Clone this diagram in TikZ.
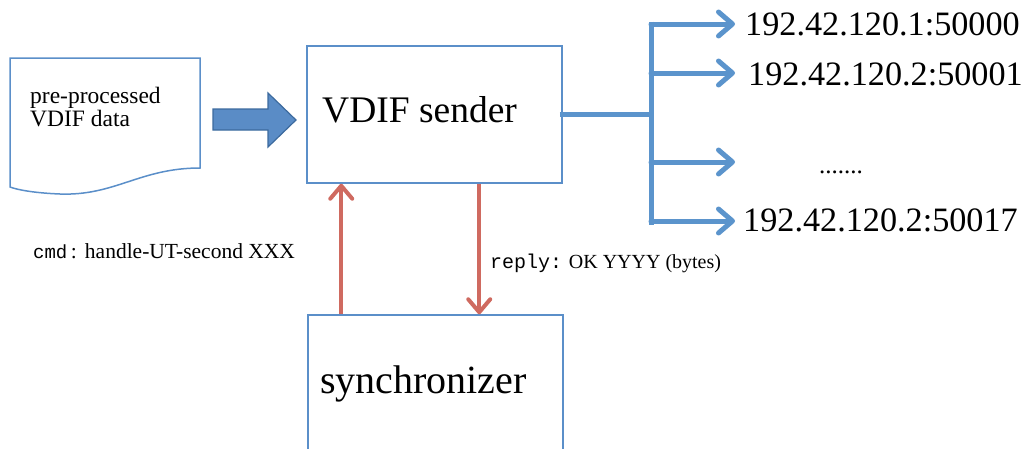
\documentclass[tikz,border=0pt]{standalone}
\usepackage{fontspec}
\setmainfont{Liberation Serif}
\setmonofont{Liberation Mono}
\usetikzlibrary{arrows.meta}

\definecolor{boxblue}{HTML}{5B8FC9}
\definecolor{fanblue}{HTML}{5B94CC}
\definecolor{fatfill}{HTML}{5A8CC6}
\definecolor{fatedge}{HTML}{3C6A9E}
\definecolor{linkred}{HTML}{CF6A60}

\tikzset{
  box/.style={draw=boxblue, line width=1.5pt, rectangle, inner sep=0pt},
  fan/.style={draw=fanblue, line width=5pt},
  fantip/.style={fan, line cap=round, -{Straight Barb[round, length=14pt, width=24pt]}},
  redlink/.style={draw=linkred, line width=4pt, -{Straight Barb[round, length=13pt, width=22pt]}},
  plain/.style={inner sep=0pt, anchor=base west},
}

\begin{document}
\begin{tikzpicture}[x=1pt, y=-1pt]
\useasboundingbox (0,0) rectangle (1021,448);
\clip (0,0) rectangle (1021,448);

% input document with wavy bottom edge
\draw[boxblue, line width=1.5pt]
  (10,58) -- (200,58) -- (200,168)
  .. controls (140,168) and (115,196) .. (60,194)
  .. controls (35,193) and (18,190) .. (10,187) -- cycle;
\node[plain, font=\fontsize{23.5}{25}\selectfont] (doc1) at (30,103) {pre-processed};
\node[plain, font=\fontsize{23.5}{25}\selectfont] (doc2) at (30,126) {VDIF data};

% block arrow into the sender
\filldraw[fill=fatfill, draw=fatedge, line width=1.2pt]
  (213,109) -- (268,109) -- (268,93) -- (296,120) -- (268,147)
  -- (268,130) -- (213,130) -- cycle;

% main blocks
\node[box, minimum width=255pt, minimum height=137pt] (sender) at (434.5,114.5) {};
\node[plain, font=\fontsize{37.5}{40}\selectfont] (sendertxt) at (322,122) {VDIF sender};
\node[box, minimum width=255pt, minimum height=160pt] (sync) at (435.5,395) {};
\node[plain, font=\fontsize{40}{42}\selectfont] (synctxt) at (320,393) {synchronizer};

% command / reply links
\coordinate (upbot) at ([xshift=34pt]sync.north west);
\draw[redlink] (upbot) -- (upbot |- sender.south);
\coordinate (downtop) at ([xshift=173pt]sender.south west);
\draw[redlink] (downtop) -- (downtop |- sync.north);

\node[plain, font=\fontsize{21.5}{24}\selectfont] (cmdlbl) at (33,258)
  {{\fontsize{19}{22}\selectfont\texttt{cmd}}\,:\hspace{8pt}handle-UT-second XXX};
\node[plain, font=\fontsize{20}{22}\selectfont] (replylbl) at (490,268)
  {\texttt{reply:} OK YYYY (bytes)};

% fan-out to the receivers
\coordinate (hub) at (651,114.5);
\coordinate (fantop) at (651,21.5);
\coordinate (fanbot) at (651,224.5);
\draw[fan] ([xshift=-3pt]sender.east) -- (hub);
\draw[fan] (fantop) -- (fanbot);

\node[plain, font=\fontsize{34.2}{37}\selectfont] (ip1) at (745,35) {192.42.120.1:50000};
\node[plain, font=\fontsize{34.2}{37}\selectfont] (ip2) at (748,85) {192.42.120.2:50001};
\node[plain, font=\fontsize{25}{28}\selectfont] (ipdots) at (819,173) {.......};
\node[plain, font=\fontsize{34.2}{37}\selectfont] (ip4) at (743,231) {192.42.120.2:50017};

\coordinate (b1) at (651,24);
\coordinate (b2) at (651,73);
\coordinate (b3) at (651,162);
\coordinate (b4) at (651,221);
\draw[fantip] (b1) -- (735,24);
\draw[fantip] (b2) -- (735,73);
\draw[fantip] (b3) -- (735,162);
\draw[fantip] (b4) -- (735,221);
\end{tikzpicture}
\end{document}
